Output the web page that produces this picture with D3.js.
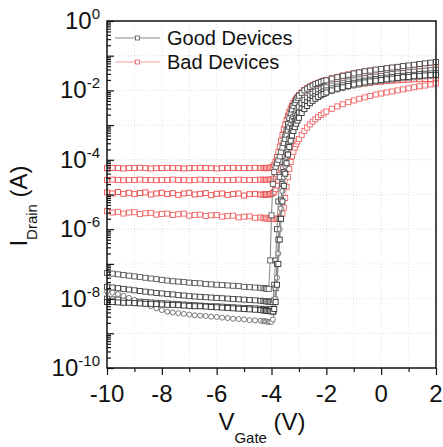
<!DOCTYPE html>
<html>
<head>
<meta charset="utf-8">
<script src="https://cdn.jsdelivr.net/npm/d3@7"></script>
<style>
  body { margin: 0; background: #fff; }
  text { font-family: Arial, "Liberation Sans", sans-serif; fill: #111; }
</style>
</head>
<body>
<svg></svg>
<script>
// gate voltage sweep (V), shared by all curves
const vGate = [
  -10, -9.8, -9.6, -9.4, -9.2, -9, -8.8, -8.6, -8.4, -8.2, -8, -7.8, -7.6, -7.4, -7.2, -7, -6.8, -6.6, -6.4, -6.2,
  -6, -5.8, -5.6, -5.4, -5.2, -5, -4.8, -4.6, -4.4,
  -4.3, -4.25, -4.2, -4.15, -4.1, -4.05, -4, -3.95, -3.9, -3.85, -3.8, -3.75, -3.7, -3.65, -3.6, -3.55, -3.5,
  -3.45, -3.4, -3.35, -3.3, -3.25, -3.2, -3.15, -3.1, -3.05, -3,
  -2.9, -2.8, -2.7, -2.6, -2.5, -2.4, -2.3, -2.2, -2.1, -2,
  -1.8, -1.6, -1.4, -1.2, -1, -0.8, -0.6, -0.4, -0.2, 0, 0.2, 0.4, 0.6, 0.8, 1, 1.2, 1.4, 1.6, 1.8, 2,
];

// drain current, stored as log10(I / A)
const good1 = [
  -8.00, -8.02, -8.03, -8.05, -8.06, -8.07, -8.09, -8.10, -8.11, -8.12, -8.13, -8.14, -8.15, -8.16, -8.17, -8.18, -8.19, -8.20, -8.21, -8.22,
  -8.22, -8.23, -8.24, -8.25, -8.26, -8.27, -8.27, -8.28, -8.29,
  -8.30, -8.30, -8.31, -8.31, -8.32, -8.32, -8.30, -8.10, -7.60, -6.90, -6.00, -5.20, -4.50, -4.05, -3.75, -3.52, -3.33,
  -3.15, -2.97, -2.80, -2.66, -2.55, -2.45, -2.36, -2.28, -2.21, -2.15,
  -2.07, -2.00, -1.95, -1.90, -1.86, -1.82, -1.79, -1.76, -1.73, -1.71,
  -1.66, -1.62, -1.58, -1.55, -1.51, -1.48, -1.45, -1.43, -1.40, -1.38, -1.36, -1.34, -1.32, -1.30, -1.28, -1.26, -1.24, -1.22, -1.20, -1.18,
];
const good2 = [
  -7.26, -7.28, -7.30, -7.32, -7.34, -7.36, -7.38, -7.40, -7.42, -7.44, -7.46, -7.48, -7.50, -7.51, -7.52, -7.54, -7.55, -7.56, -7.58, -7.59,
  -7.60, -7.61, -7.62, -7.63, -7.64, -7.66, -7.67, -7.68, -7.69,
  -7.70, -7.70, -7.71, -7.72, -7.72, -6.90, -5.60, -4.70, -4.35, -4.20, -4.10, -4.00, -3.90, -3.78, -3.65, -3.52, -3.40,
  -3.28, -3.16, -3.05, -2.95, -2.85, -2.76, -2.68, -2.60, -2.53, -2.47,
  -2.37, -2.28, -2.21, -2.15, -2.10, -2.05, -2.01, -1.97, -1.94, -1.91,
  -1.86, -1.82, -1.78, -1.74, -1.71, -1.68, -1.65, -1.62, -1.60, -1.58, -1.55, -1.53, -1.51, -1.50, -1.48, -1.46, -1.45, -1.43, -1.42, -1.40,
];
const good3 = [
  -7.66, -7.68, -7.70, -7.72, -7.74, -7.76, -7.78, -7.80, -7.82, -7.84, -7.85, -7.87, -7.88, -7.90, -7.91, -7.93, -7.94, -7.95, -7.96, -7.97,
  -7.98, -7.99, -8.00, -8.01, -8.02, -8.03, -8.04, -8.05, -8.06,
  -8.07, -8.07, -8.08, -8.08, -8.09, -8.09, -8.10, -8.10, -8.05, -7.70, -7.00, -6.30, -5.70, -5.15, -4.70, -4.35, -4.05,
  -3.80, -3.58, -3.40, -3.24, -3.10, -2.98, -2.88, -2.79, -2.71, -2.64,
  -2.52, -2.42, -2.34, -2.27, -2.21, -2.16, -2.11, -2.07, -2.03, -2.00,
  -1.94, -1.89, -1.85, -1.81, -1.78, -1.75, -1.72, -1.69, -1.67, -1.65, -1.63, -1.61, -1.59, -1.58, -1.56, -1.55, -1.53, -1.52, -1.51, -1.50,
];
const good4 = [
  -7.80, -7.83, -7.87, -7.92, -7.98, -8.04, -8.10, -8.16, -8.22, -8.28, -8.33, -8.38, -8.40, -8.42, -8.44, -8.46, -8.48, -8.49, -8.50, -8.52,
  -8.53, -8.55, -8.56, -8.58, -8.59, -8.60, -8.62, -8.63, -8.64,
  -8.65, -8.65, -8.66, -8.66, -8.67, -8.67, -8.67, -8.60, -8.40, -8.00, -7.40, -6.70, -6.00, -5.40, -4.90, -4.50, -4.18,
  -3.92, -3.70, -3.51, -3.35, -3.21, -3.09, -2.99, -2.90, -2.82, -2.75,
  -2.62, -2.52, -2.44, -2.37, -2.31, -2.25, -2.20, -2.16, -2.12, -2.09,
  -2.03, -1.98, -1.94, -1.90, -1.87, -1.84, -1.81, -1.78, -1.76, -1.74, -1.72, -1.70, -1.68, -1.66, -1.65, -1.63, -1.62, -1.60, -1.59, -1.58,
];
const good5 = [
  -8.10, -8.10, -8.11, -8.12, -8.12, -8.13, -8.14, -8.15, -8.15, -8.16, -8.17, -8.18, -8.18, -8.19, -8.20, -8.21, -8.22, -8.22, -8.23, -8.24,
  -8.25, -8.26, -8.27, -8.28, -8.29, -8.30, -8.31, -8.32, -8.33,
  -8.34, -8.34, -8.35, -8.35, -8.36, -8.36, -8.37, -8.37, -8.30, -8.10, -7.60, -7.00, -6.30, -5.70, -5.20, -4.75, -4.40,
  -4.10, -3.85, -3.63, -3.45, -3.30, -3.17, -3.06, -2.96, -2.87, -2.79,
  -2.65, -2.54, -2.45, -2.37, -2.30, -2.24, -2.19, -2.14, -2.10, -2.06,
  -2.00, -1.95, -1.91, -1.87, -1.83, -1.80, -1.77, -1.74, -1.72, -1.70, -1.68, -1.66, -1.64, -1.62, -1.61, -1.59, -1.58, -1.57, -1.56, -1.55,
];

const bad1 = [
  -4.24, -4.23, -4.24, -4.25, -4.24, -4.24, -4.23, -4.24, -4.25, -4.24, -4.24, -4.23, -4.24, -4.24, -4.25, -4.24, -4.24, -4.23, -4.24, -4.24,
  -4.25, -4.24, -4.24, -4.23, -4.24, -4.24, -4.24, -4.23, -4.24,
  -4.24, -4.24, -4.23, -4.24, -4.24, -4.23, -4.22, -4.20, -4.15, -4.05, -3.92, -3.78, -3.62, -3.45, -3.28, -3.12, -2.98,
  -2.85, -2.73, -2.62, -2.52, -2.44, -2.37, -2.30, -2.24, -2.19, -2.14,
  -2.06, -1.99, -1.94, -1.89, -1.85, -1.81, -1.78, -1.75, -1.72, -1.70,
  -1.65, -1.61, -1.57, -1.54, -1.51, -1.48, -1.46, -1.43, -1.41, -1.39, -1.37, -1.35, -1.33, -1.31, -1.30, -1.28, -1.26, -1.25, -1.23, -1.22,
];
const bad2 = [
  -4.58, -4.57, -4.58, -4.59, -4.58, -4.58, -4.57, -4.58, -4.58, -4.59, -4.58, -4.58, -4.57, -4.58, -4.58, -4.59, -4.58, -4.57, -4.58, -4.58,
  -4.58, -4.59, -4.58, -4.58, -4.57, -4.58, -4.58, -4.58, -4.57,
  -4.58, -4.58, -4.57, -4.58, -4.58, -4.57, -4.57, -4.56, -4.54, -4.50, -4.42, -4.30, -4.14, -3.95, -3.75, -3.55, -3.36,
  -3.19, -3.04, -2.91, -2.80, -2.70, -2.61, -2.53, -2.46, -2.40, -2.34,
  -2.24, -2.16, -2.09, -2.03, -1.98, -1.93, -1.89, -1.85, -1.82, -1.79,
  -1.74, -1.69, -1.65, -1.62, -1.59, -1.56, -1.53, -1.51, -1.49, -1.47, -1.45, -1.43, -1.41, -1.40, -1.38, -1.37, -1.36, -1.35, -1.34, -1.33,
];
const bad3 = [
  -4.94, -4.97, -4.93, -4.98, -4.95, -4.99, -4.96, -4.94, -5.00, -4.97, -4.95, -4.99, -4.96, -5.01, -4.97, -4.95, -5.00, -4.98, -4.96, -5.02,
  -4.98, -4.97, -5.01, -4.99, -4.97, -5.03, -4.99, -4.98, -5.00,
  -5.00, -5.01, -4.99, -5.00, -5.00, -4.99, -4.98, -4.96, -4.92, -4.85, -4.74, -4.60, -4.43, -4.25, -4.06, -3.87, -3.69,
  -3.52, -3.37, -3.24, -3.12, -3.01, -2.92, -2.84, -2.77, -2.70, -2.64,
  -2.53, -2.44, -2.37, -2.30, -2.24, -2.19, -2.14, -2.10, -2.06, -2.03,
  -1.98, -1.94, -1.90, -1.87, -1.84, -1.82, -1.80, -1.78, -1.76, -1.75, -1.73, -1.72, -1.71, -1.70, -1.69, -1.68, -1.68, -1.67, -1.67, -1.66,
];
const bad4 = [
  -5.48, -5.52, -5.50, -5.55, -5.52, -5.51, -5.56, -5.54, -5.53, -5.58, -5.56, -5.55, -5.59, -5.57, -5.55, -5.61, -5.59, -5.58, -5.62, -5.60,
  -5.59, -5.64, -5.62, -5.61, -5.66, -5.64, -5.63, -5.67, -5.66,
  -5.68, -5.69, -5.67, -5.70, -5.69, -5.70, -5.69, -5.71, -5.70, -5.71, -5.70, -5.69, -5.68, -5.64, -5.55, -5.38, -5.10,
  -4.78, -4.50, -4.26, -4.06, -3.90, -3.77, -3.65, -3.55, -3.47, -3.40,
  -3.28, -3.17, -3.07, -2.98, -2.90, -2.83, -2.77, -2.71, -2.66, -2.61,
  -2.53, -2.46, -2.40, -2.34, -2.29, -2.24, -2.20, -2.16, -2.12, -2.09, -2.06, -2.03, -2.00, -1.97, -1.94, -1.91, -1.88, -1.86, -1.83, -1.80,
];

const goodCurves = [good1, good2, good3, good4, good5];
const badCurves = [bad1, bad2, bad3, bad4];
const legendNames = ["Good Devices", "Bad Devices"];
const xTickValues = [-10, -8, -6, -4, -2, 0, 2];
const yTickExponents = [0, -2, -4, -6, -8, -10];

// styles
const goodStroke = ["#4a4a4a", "#5a5a5a", "#444", "#6a6a6a", "#333"];
const goodMarker = ["square", "square", "square", "circle", "square"];
const badStroke = ["#ee5050", "#f05a5a", "#ec4c4c", "#f06464"];

const width = 443;
const height = 447;
const plot = { left: 107, right: 436, top: 21, bottom: 368 };

const svg = d3.select("svg").attr("width", width).attr("height", height);

const x = d3.scaleLinear().domain([-10, 2]).range([plot.left, plot.right]);
const y = d3.scaleLog().domain([1e-10, 1]).range([plot.bottom, plot.top]);

// grid
const grid = svg.append("g").attr("stroke", "#d8d8d8").attr("stroke-dasharray", "1,2").attr("stroke-width", 0.8);
grid.selectAll("line.vg")
  .data(d3.range(-9, 2))
  .enter()
  .append("line")
  .attr("x1", (d) => x(d)).attr("x2", (d) => x(d))
  .attr("y1", plot.top).attr("y2", plot.bottom);
grid.selectAll("line.hg")
  .data(d3.range(-9, 0))
  .enter()
  .append("line")
  .attr("x1", plot.left).attr("x2", plot.right)
  .attr("y1", (d) => y(10 ** d)).attr("y2", (d) => y(10 ** d));

// curves
const g = svg.append("g");
const line = d3.line()
  .x((d) => x(d[0]))
  .y((d) => y(10 ** d[1]));

function drawCurve(values, stroke, lineColor, marker) {
  const pts = vGate.map((v, i) => [v, values[i]]);
  const cg = g.append("g");
  cg.append("path")
    .attr("d", line(pts))
    .attr("fill", "none")
    .attr("stroke", lineColor)
    .attr("stroke-width", 1);
  if (marker === "circle") {
    cg.selectAll("circle")
      .data(pts)
      .enter()
      .append("circle")
      .attr("cx", (d) => x(d[0]))
      .attr("cy", (d) => y(10 ** d[1]))
      .attr("r", 2.5)
      .attr("fill", "#fff")
      .attr("stroke", stroke)
      .attr("stroke-width", 0.9);
  } else {
    cg.selectAll("rect")
      .data(pts)
      .enter()
      .append("rect")
      .attr("x", (d) => x(d[0]) - 2.5)
      .attr("y", (d) => y(10 ** d[1]) - 2.5)
      .attr("width", 5)
      .attr("height", 5)
      .attr("fill", "#fff")
      .attr("stroke", stroke)
      .attr("stroke-width", 0.9);
  }
}

badCurves.forEach((c, i) => drawCurve(c, badStroke[i], "#f3a0a0", "square"));
goodCurves.forEach((c, i) => drawCurve(c, goodStroke[i], "#888", goodMarker[i]));

// axes
const minorY = [];
for (let e = -10; e < 0; e++) {
  for (let k = 2; k <= 9; k++) minorY.push(k * 10 ** e);
}
svg.append("g")
  .attr("transform", `translate(${plot.left},0)`)
  .call(d3.axisLeft(y).tickValues(minorY).tickSize(-4).tickFormat(""))
  .call((a) => a.select(".domain").remove());
svg.append("g")
  .attr("transform", `translate(${plot.left},0)`)
  .call(d3.axisLeft(y).tickValues(d3.range(-10, 1).map((e) => 10 ** e)).tickSize(-7).tickFormat(""))
  .call((a) => a.select(".domain").remove());

svg.append("g")
  .attr("transform", `translate(0,${plot.bottom})`)
  .call(d3.axisBottom(x).tickValues(d3.range(-9, 2, 2)).tickSize(4).tickFormat(""))
  .call((a) => a.select(".domain").remove());
svg.append("g")
  .attr("transform", `translate(0,${plot.bottom})`)
  .call(d3.axisBottom(x).tickValues(xTickValues).tickSize(7).tickFormat(""))
  .call((a) => a.select(".domain").remove());

svg.selectAll(".tick line").attr("stroke", "#111").attr("stroke-width", 1.2);

// frame
svg.append("rect")
  .attr("x", plot.left)
  .attr("y", plot.top)
  .attr("width", plot.right - plot.left)
  .attr("height", plot.bottom - plot.top)
  .attr("fill", "none")
  .attr("stroke", "#111")
  .attr("stroke-width", 1.5);

// tick labels
svg.selectAll("text.xl")
  .data(xTickValues)
  .enter()
  .append("text")
  .attr("x", (d) => x(d))
  .attr("y", 402)
  .attr("text-anchor", "middle")
  .attr("font-size", 24)
  .text((d) => d);

const yl = svg.selectAll("text.yl")
  .data(yTickExponents)
  .enter()
  .append("text")
  .attr("x", 100)
  .attr("y", (d) => y(10 ** d) + 8)
  .attr("text-anchor", "end")
  .attr("font-size", 24);
yl.append("tspan").text("10");
yl.append("tspan").attr("dy", -10).attr("font-size", 15).text((d) => d);

// axis titles
const xt = svg.append("text")
  .attr("x", 262)
  .attr("y", 430)
  .attr("text-anchor", "middle")
  .attr("font-size", 24);
xt.append("tspan").text("V");
xt.append("tspan").attr("dy", 13).attr("font-size", 15).text("Gate");
xt.append("tspan").attr("dy", -13).text(" (V)");

const yt = svg.append("text")
  .attr("transform", "translate(27,206) rotate(-90)")
  .attr("text-anchor", "middle")
  .attr("font-size", 24);
yt.append("tspan").text("I");
yt.append("tspan").attr("dy", 10).attr("font-size", 15).text("Drain");
yt.append("tspan").attr("dy", -10).text(" (A)");

// legend
const legend = svg.append("g");
const legendColors = ["#888", "#f3a0a0"];
const legendMarkers = ["#555", "#ee5555"];
legendNames.forEach((name, i) => {
  const ly = 38 + i * 24;
  legend.append("line")
    .attr("x1", 115).attr("x2", 160)
    .attr("y1", ly).attr("y2", ly)
    .attr("stroke", legendColors[i])
    .attr("stroke-width", 1);
  legend.append("rect")
    .attr("x", 135.5).attr("y", ly - 2)
    .attr("width", 4).attr("height", 4)
    .attr("fill", "#fff")
    .attr("stroke", legendMarkers[i])
    .attr("stroke-width", 0.8);
  legend.append("text")
    .attr("x", 167)
    .attr("y", ly + 7)
    .attr("font-size", 20)
    .text(name);
});
</script>
</body>
</html>
